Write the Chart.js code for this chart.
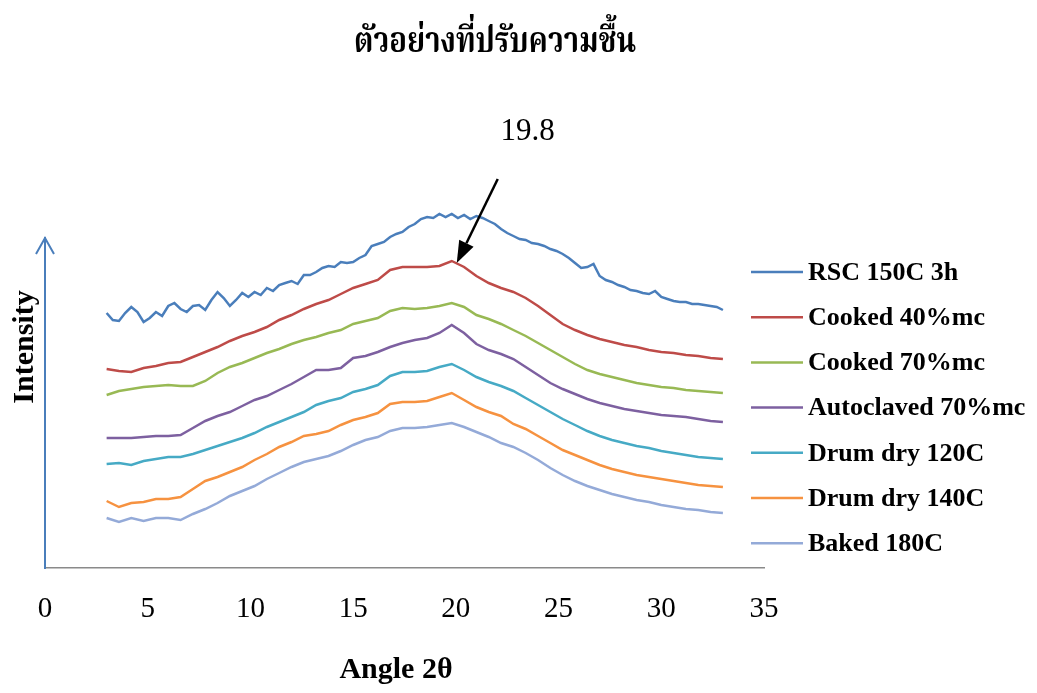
<!DOCTYPE html>
<html>
<head>
<meta charset="utf-8">
<script src="https://cdn.jsdelivr.net/npm/chart.js@4.4.1/dist/chart.umd.min.js"></script>
<style>
  html, body { margin: 0; padding: 0; background: #ffffff; }
  canvas { display: block; }
</style>
</head>
<body>
<canvas id="xrd" width="1037" height="693"></canvas>
<script>
// Diffraction angle 2θ (degrees) for the smoother patterns
const angles = [3.0, 3.6, 4.2, 4.8, 5.4, 6.0, 6.6, 7.2, 7.8, 8.4,
  9.0, 9.6, 10.2, 10.8, 11.4, 12.0, 12.6, 13.2, 13.8, 14.4,
  15.0, 15.6, 16.2, 16.8, 17.4, 18.0, 18.6, 19.2, 19.8, 20.4,
  21.0, 21.6, 22.2, 22.8, 23.4, 24.0, 24.6, 25.2, 25.8, 26.4,
  27.0, 27.6, 28.2, 28.8, 29.4, 30.0, 30.6, 31.2, 31.8, 32.4, 33.0];

// Finer 2θ grid for the noisy RSC pattern
const anglesRsc = [3.0, 3.3, 3.6, 3.9, 4.2, 4.5, 4.8, 5.1, 5.4, 5.7,
  6.0, 6.3, 6.6, 6.9, 7.2, 7.5, 7.8, 8.1, 8.4, 8.7,
  9.0, 9.3, 9.6, 9.9, 10.2, 10.5, 10.8, 11.1, 11.4, 11.7,
  12.0, 12.3, 12.6, 12.9, 13.2, 13.5, 13.8, 14.1, 14.4, 14.7,
  15.0, 15.3, 15.6, 15.9, 16.2, 16.5, 16.8, 17.1, 17.4, 17.7,
  18.0, 18.3, 18.6, 18.9, 19.2, 19.5, 19.8, 20.1, 20.4, 20.7,
  21.0, 21.3, 21.6, 21.9, 22.2, 22.5, 22.8, 23.1, 23.4, 23.7,
  24.0, 24.3, 24.6, 24.9, 25.2, 25.5, 25.8, 26.1, 26.4, 26.7,
  27.0, 27.3, 27.6, 27.9, 28.2, 28.5, 28.8, 29.1, 29.4, 29.7,
  30.0, 30.3, 30.6, 30.9, 31.2, 31.5, 31.8, 32.1, 32.4, 32.7, 33.0];

// Intensities (arbitrary units, patterns stacked with an offset)
const rsc150 = [255, 248, 247, 255, 261, 256, 246, 250, 256, 252,
  262, 265, 259, 256, 262, 263, 258, 268, 276, 270,
  262, 268, 275, 271, 276, 273, 280, 277, 283, 285,
  287, 284, 293, 293, 296, 300, 302, 301, 306, 305,
  306, 310, 313, 322, 324, 326, 331, 334, 336, 341,
  344, 349, 351, 350, 354, 351, 354, 350, 353, 349,
  352, 350, 347, 344, 339, 335, 332, 329, 328, 325,
  324, 322, 319, 317, 314, 310, 305, 300, 301, 304,
  292, 288, 286, 283, 281, 278, 277, 275, 274, 277,
  271, 269, 267, 266, 266, 264, 264, 263, 262, 261, 258];

const cooked40 = [199, 197, 196, 200, 202, 205, 206, 211, 216, 221,
  227, 232, 236, 241, 248, 253, 259, 264, 268, 274,
  280, 284, 288, 298, 301, 301, 301, 302, 307, 301,
  292, 285, 280, 276, 270, 262, 253, 244, 238, 233,
  229, 226, 223, 221, 218, 216, 215, 213, 212, 210, 209];

const cooked70 = [173, 177, 179, 181, 182, 183, 182, 182, 187, 195,
  201, 205, 210, 215, 219, 224, 228, 231, 235, 238,
  244, 247, 250, 257, 260, 259, 260, 262, 265, 261,
  253, 249, 244, 238, 232, 225, 218, 211, 204, 198,
  194, 191, 188, 185, 183, 181, 180, 178, 177, 176, 175];

const autoclaved70 = [130, 130, 130, 131, 132, 132, 133, 140, 147, 152,
  156, 162, 168, 172, 178, 184, 191, 198, 198, 200,
  210, 212, 216, 221, 225, 228, 230, 235, 243, 235,
  224, 218, 214, 209, 201, 193, 185, 179, 174, 169,
  165, 162, 159, 157, 155, 153, 152, 151, 149, 147, 146];

const drum120 = [104, 105, 103, 107, 109, 111, 111, 114, 118, 122,
  126, 130, 135, 141, 146, 151, 156, 163, 167, 170,
  176, 179, 183, 192, 196, 196, 197, 201, 204, 198,
  191, 186, 182, 177, 170, 163, 156, 149, 143, 137,
  132, 128, 125, 122, 120, 117, 115, 113, 111, 110, 109];

const drum140 = [67, 61, 65, 66, 69, 69, 71, 79, 87, 91,
  96, 101, 108, 114, 121, 126, 132, 134, 137, 143,
  148, 151, 155, 164, 166, 166, 167, 171, 175, 168,
  161, 156, 152, 144, 139, 132, 125, 118, 113, 108,
  103, 99, 96, 93, 91, 89, 87, 85, 83, 82, 81];

const baked180 = [50, 46, 50, 47, 50, 50, 48, 54, 59, 65,
  72, 77, 82, 89, 95, 101, 106, 109, 112, 117,
  123, 128, 131, 137, 140, 140, 141, 143, 145, 141,
  136, 131, 125, 121, 115, 108, 100, 93, 87, 82,
  78, 74, 71, 68, 66, 63, 61, 59, 58, 56, 55];

const seriesNames = ['RSC 150C 3h', 'Cooked 40%mc', 'Cooked 70%mc',
  'Autoclaved 70%mc', 'Drum dry 120C', 'Drum dry 140C', 'Baked 180C'];
const seriesColors = ['#4A7EBB', '#BE4B48', '#98B954', '#7D60A0',
  '#46AAC5', '#F69240', '#94AAD8'];
const xTicks = [0, 5, 10, 15, 20, 25, 30, 35];
const peakAngle = 19.8;
const titleText = 'ตัวอย่างที่ปรับความชื้น';
const xTitle = 'Angle 2θ';
const yTitle = 'Intensity';

const serif = '"Liberation Serif", "Times New Roman", serif';
const thaiFont = '"Noto Serif Thai", "Noto Sans Thai", "TH Sarabun New", "Angsana New", "Loma", "Garuda", "Norasi", "Tlwg Typo", "DejaVu Sans", sans-serif';

function pairs(xs, ys) {
  return ys.map((v, i) => ({ x: xs[i], y: v }));
}

const seriesData = [
  pairs(anglesRsc, rsc150),
  pairs(angles, cooked40),
  pairs(angles, cooked70),
  pairs(angles, autoclaved70),
  pairs(angles, drum120),
  pairs(angles, drum140),
  pairs(angles, baked180)
];

// Titles, axis arrow, peak annotation and the legend column
const decorations = {
  id: 'decorations',
  afterDraw(chart) {
    const { ctx, chartArea, scales } = chart;
    const xs = scales.x, ys = scales.y;
    ctx.save();

    // arrowhead on the intensity axis
    const ax = chartArea.left;
    const top = ys.getPixelForValue(ys.max);
    ctx.strokeStyle = seriesColors[0];
    ctx.lineWidth = 2;
    ctx.beginPath();
    ctx.moveTo(ax - 9, top + 16);
    ctx.lineTo(ax, top);
    ctx.lineTo(ax + 9, top + 16);
    ctx.stroke();

    // chart title
    ctx.fillStyle = '#000';
    ctx.textAlign = 'center';
    ctx.textBaseline = 'middle';
    ctx.font = 'bold 36px ' + thaiFont;
    ctx.fillText(titleText, 495, 46, 282);

    // axis titles
    ctx.font = 'bold 30px ' + serif;
    ctx.fillText(xTitle, 396, 670);
    ctx.save();
    ctx.translate(25, 347);
    ctx.rotate(-Math.PI / 2);
    ctx.fillText(yTitle, 0, 0);
    ctx.restore();

    // peak marker on the Cooked 40%mc pattern
    const peakIdx = angles.indexOf(peakAngle);
    const tipX = xs.getPixelForValue(peakAngle) + 5;
    const tipY = ys.getPixelForValue(cooked40[peakIdx]) + 2;
    const startX = tipX + 41, startY = tipY - 84;
    const ang = Math.atan2(tipY - startY, tipX - startX);
    const headLen = 22, headHalf = 8;
    const baseX = tipX - headLen * Math.cos(ang), baseY = tipY - headLen * Math.sin(ang);
    ctx.strokeStyle = '#000';
    ctx.lineWidth = 2.5;
    ctx.beginPath();
    ctx.moveTo(startX, startY);
    ctx.lineTo(baseX, baseY);
    ctx.stroke();
    ctx.fillStyle = '#000';
    ctx.beginPath();
    ctx.moveTo(tipX, tipY);
    ctx.lineTo(baseX + headHalf * Math.sin(ang), baseY - headHalf * Math.cos(ang));
    ctx.lineTo(baseX - headHalf * Math.sin(ang), baseY + headHalf * Math.cos(ang));
    ctx.closePath();
    ctx.fill();
    ctx.font = '31px ' + serif;
    ctx.fillText(String(peakAngle), tipX + 71, 132);

    // legend
    ctx.textAlign = 'left';
    ctx.font = 'bold 26px ' + serif;
    chart.data.datasets.forEach((ds, i) => {
      const y = 272 + i * 45.2;
      ctx.strokeStyle = ds.borderColor;
      ctx.lineWidth = 2.5;
      ctx.beginPath();
      ctx.moveTo(751, y);
      ctx.lineTo(803, y);
      ctx.stroke();
      ctx.fillStyle = '#000';
      ctx.fillText(ds.label, 808, y + 1);
    });
    ctx.restore();
  }
};

new Chart(document.getElementById('xrd'), {
  type: 'line',
  data: {
    datasets: seriesNames.map((name, i) => ({
      label: name,
      data: seriesData[i],
      borderColor: seriesColors[i],
      backgroundColor: seriesColors[i],
      borderWidth: 2.5,
      pointRadius: 0,
      tension: 0,
      fill: false,
      clip: false
    }))
  },
  options: {
    responsive: false,
    animation: false,
    devicePixelRatio: 1,
    layout: { padding: { left: 45, right: 273, top: 238, bottom: 65 } },
    plugins: {
      legend: { display: false },
      title: { display: false },
      tooltip: { enabled: false }
    },
    scales: {
      x: {
        type: 'linear',
        min: 0,
        max: 35,
        afterBuildTicks(scale) { scale.ticks = xTicks.map(v => ({ value: v })); },
        afterFit(scale) { scale.height = 60; },
        grid: { display: false, drawTicks: false },
        border: { display: true, color: '#8A8A8A', width: 1.5 },
        ticks: {
          color: '#000',
          padding: 24,
          maxRotation: 0,
          font: { family: serif, size: 29 }
        }
      },
      y: {
        min: 0,
        max: 330,
        afterFit(scale) { scale.width = 0; },
        grid: { display: false, drawTicks: false },
        border: { display: true, color: '#4A7EBB', width: 2 },
        ticks: { display: false }
      }
    }
  },
  plugins: [decorations]
});
</script>
</body>
</html>
